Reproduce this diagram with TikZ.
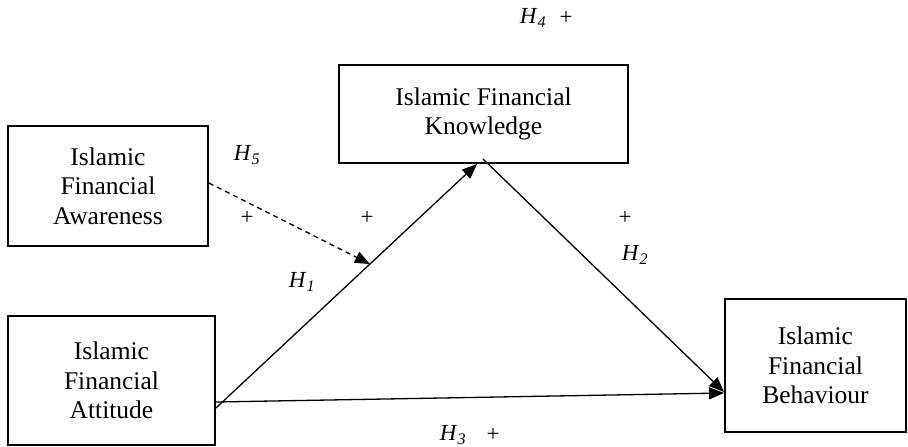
\documentclass[tikz,border=0pt]{standalone}
\usepackage{fontspec}
\setmainfont{Liberation Serif}
\usetikzlibrary{arrows.meta,calc}
\begin{document}
\begin{tikzpicture}[x=1pt,y=-1pt,
  box/.style={draw,line width=1.9pt,rectangle,align=center,inner sep=0pt,
    font=\fontsize{25.5}{29.5}\selectfont},
  conn/.style={line width=1.3pt,-{Triangle[length=15pt,width=12pt]}},
  dconn/.style={conn,dash pattern=on 5pt off 4pt},
  lbl/.style={font=\fontsize{23}{27}\selectfont,inner sep=0pt}]
\useasboundingbox (0,0) rectangle (908,447);
\node[box,minimum width=200pt,minimum height=120pt] (aw) at (108,186) {Islamic\\Financial\\Awareness};
\node[box,minimum width=289pt,minimum height=98pt] (kn) at (483.5,114) {Islamic Financial\\Knowledge};
\node[box,minimum width=207pt,minimum height=129pt] (at) at (111.5,380.5) {Islamic\\Financial\\Attitude};
\node[box,minimum width=181pt,minimum height=133pt] (be) at (815.5,365.5) {Islamic\\Financial\\Behaviour};
\coordinate (a1) at ($(at.east)+(0,27.5)$);
\coordinate (a2) at ($(at.east)+(0,21.5)$);
\coordinate (k1) at ($(kn.south)+(-6.5,0)$);
\coordinate (k2) at ($(kn.south)+(-0.5,-5)$);
\coordinate (b1) at ($(be.west)+(0,26.5)$);
\coordinate (b2) at ($(be.west)+(0,27.5)$);
\draw[conn] (a1) -- (k1) coordinate[pos=0.59] (m1);
\draw[conn] (k2) -- (b1);
\draw[conn] (a2) -- (b2);
\draw[dconn] ($(aw.east)+(0,-3)$) -- (m1);
\node[lbl] (h4) at (533,18) {\textit{H}\textsubscript{\textit{4}}};
\node[lbl] (p4) at (566,18) {+};
\node[lbl] (h5) at (247,155) {\textit{H}\textsubscript{\textit{5}}};
\node[lbl] (p5) at (247,218) {+};
\node[lbl] (p1) at (367,218) {+};
\node[lbl] (h1) at (302,282) {\textit{H}\textsubscript{\textit{1}}};
\node[lbl] (p2) at (625,218) {+};
\node[lbl] (h2) at (635,255) {\textit{H}\textsubscript{\textit{2}}};
\node[lbl] (h3) at (453,435) {\textit{H}\textsubscript{\textit{3}}};
\node[lbl] (p3) at (493,435) {+};
\end{tikzpicture}
\end{document}
